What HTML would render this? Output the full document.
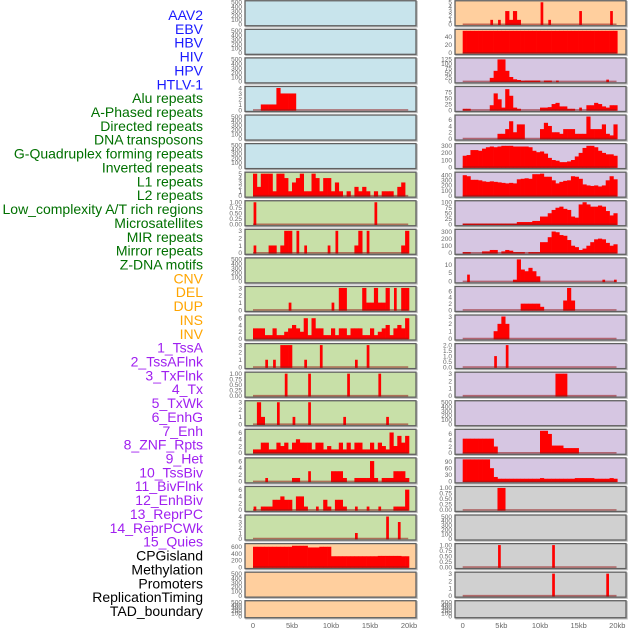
<!DOCTYPE html>
<html><head><meta charset="utf-8"><style>
html,body{margin:0;padding:0;background:#fff;}
svg{display:block;font-family:"Liberation Sans",sans-serif;}
</style></head><body>
<svg id="chart" width="630" height="630" viewBox="0 0 630 630" xmlns="http://www.w3.org/2000/svg"></svg>
<script>
const labelTexts = ["AAV2","EBV","HBV","HIV","HPV","HTLV-1","Alu repeats","A-Phased repeats","Directed repeats","DNA transposons","G-Quadruplex forming repeats","Inverted repeats","L1 repeats","L2 repeats","Low_complexity A/T rich regions","Microsatellites","MIR repeats","Mirror repeats","Z-DNA motifs","CNV","DEL","DUP","INS","INV","1_TssA","2_TssAFlnk","3_TxFlnk","4_Tx","5_TxWk","6_EnhG","7_Enh","8_ZNF_Rpts","9_Het","10_TssBiv","11_BivFlnk","12_EnhBiv","13_ReprPC","14_ReprPCWk","15_Quies","CPGisland","Methylation","Promoters","ReplicationTiming","TAD_boundary"];
const labelGroups = ["v","v","v","v","v","v","r","r","r","r","r","r","r","r","r","r","r","r","r","s","s","s","s","s","c","c","c","c","c","c","c","c","c","c","c","c","c","c","c","k","k","k","k","k"];
const xTickLabels = ["0","5kb","10kb","15kb","20kb"];
const xTickKb = [0,5,10,15,20];

const E = [];
const L3 = [[2,1],[3,1],[4,1],[5,1],[6,4],[7,3],[8,3],[9,3],[10,3]];
const L6 = [5,2,5,5,5,1,5,5,4,1,3,4,5,1,1,5,4,1,4,4,1,3,1,0,1,0,2,1,2,1,0,1,0,1,1,1,0,2,3,0];
const L7 = [[0,1],[31,1]];
const L8 = [[0,1],[4,1],[5,1],[7,1],[8,3],[9,3],[11,3],[13,1],[19,1],[21,3],[26,1],[27,3],[29,3],[38,1],[39,3]];
const L10 = [[9,1],[20,1],[22,3],[23,3],[28,3],[29,1],[30,1],[31,3],[32,1],[33,1],[34,3],[36,3],[38,3],[39,3]];
const L11 = [3,3,3,1,1,3,1,1,2,3,4,3,2,6,1,6,3,3,1,1,3,1,3,3,1,3,3,3,1,1,3,1,2,3,4,1,3,4,3,6];
const L12 = [[3,1],[5,1],[7,3],[8,3],[9,3],[13,1],[17,3],[26,1],[29,3]];
const L13 = [[8,1],[14,1],[24,1],[32,1]];
const L14 = [[1,3],[2,1],[6,3],[10,1],[14,3],[23,1],[34,1]];
const L15 = [1,1,3,3,1,1,3,2,3,1,3,4,3,3,3,1,3,3,1,2,1,1,3,1,3,1,3,3,1,1,3,1,3,2,1,6,2,5,3,5];
const L16 = [[3,1],[10,1],[11,1],[14,3],[20,3],[21,3],[22,3],[23,1],[26,1],[27,1],[28,1],[29,1],[30,6],[31,1],[33,1],[34,1],[35,1],[36,3],[37,3],[38,3],[39,1]];
const L17 = [[0,1],[2,1],[3,1],[4,1],[5,3],[6,3],[7,4],[8,3],[9,3],[11,4],[12,4],[13,1],[16,1],[18,3],[19,1],[21,3],[22,3],[23,1],[26,1],[29,1],[32,1],[36,1],[37,1],[38,1],[39,6]];
const L18 = [[26,1],[34,4],[37,3]];
const L19 = [600,600,600,600,600,600,600,600,600,600,630,630,630,630,580,580,580,600,600,600,320,320,320,320,320,320,320,320,320,320,320,320,330,330,330,330,330,330,320,320];

const R0 = [[7,1],[9,1],[11,3],[12,1],[13,3],[14,1],[20,5],[22,1],[30,3],[38,3]];
const R1 = [55,55,55,55,55,55,55,55,55,55,55,55,55,55,55,55,55,55,55,55,55,55,55,55,55,55,55,55,55,55,55,55,55,55,55,55,55,55,55,55];
const R2 = [[7,20],[8,60],[9,125],[10,125],[11,60],[12,25],[13,12],[14,8],[15,4],[16,5],[17,5],[18,5],[19,5],[21,5],[22,5],[24,5],[37,10]];
const R3 = [[0,5],[1,5],[7,20],[8,70],[9,45],[10,10],[11,88],[12,60],[13,10],[14,5],[20,10],[21,10],[22,12],[23,25],[24,30],[25,15],[26,15],[27,5],[28,5],[30,10],[32,20],[33,20],[34,30],[35,25],[36,15],[37,10],[38,20],[39,20]];
const R4 = [[9,1.5],[10,1.5],[11,3],[12,5.5],[13,2],[14,4.5],[15,4.5],[20,3],[21,5],[22,4],[23,2],[24,2],[25,1.5],[26,3],[27,3],[28,3],[29,1.5],[30,1.5],[31,1.5],[32,7],[33,3],[34,3],[35,3],[36,4.5],[37,1.5],[38,1],[39,4.5]];
const R5 = [160,170,240,240,230,260,280,290,280,290,300,300,300,290,290,290,290,280,230,210,220,190,130,100,90,70,70,80,100,150,200,270,300,300,280,230,200,180,180,160];
const R6 = [400,380,310,310,300,280,270,280,270,260,250,240,250,240,320,330,340,330,420,420,430,370,370,300,240,270,290,300,380,370,330,220,200,190,200,180,200,300,380,320];
const R7 = [3,3,3,3,3,3,3,3,3,3,3,3,3,3,10,10,10,10,15,15,35,35,50,65,75,80,70,65,35,30,90,100,90,80,80,85,80,60,40,50];
const R8 = [10,10,0,0,0,20,20,40,40,0,20,40,30,10,10,10,0,10,10,10,150,150,220,300,290,250,240,180,100,80,40,60,100,150,190,200,190,140,100,120];
const R9 = [[1,4],[13,1],[14,13],[15,7],[16,6],[17,8],[18,6],[19,3],[36,1],[39,1]];
const R10 = [[15,2],[16,2],[17,2],[18,2],[19,2],[20,1],[26,3],[27,7],[28,3]];
const R11 = [[8,1],[9,2],[10,3],[11,2]];
const R12 = [[8,1],[11,2]];
const R13 = [[24,3],[25,3],[26,3]];
const R15 = [[0,4.5],[1,4.5],[2,4.5],[3,4.5],[4,4.5],[5,4.5],[6,4.5],[7,4.5],[8,2],[20,7],[21,7],[22,6],[23,2.3],[24,2.3],[25,2.3],[26,1.5],[27,1.5],[28,1.5],[29,1.5]];
const R16 = [100,100,100,100,100,100,100,60,20,12,12,12,12,12,12,12,12,12,12,12,15,12,12,12,12,12,12,12,12,15,15,15,15,15,12,12,12,12,15,12];
const R17 = [[9,1],[10,1]];
const R19 = [[9,1],[23,1]];
const R20 = [[23,3],[37,3]];

const T500 = [0,100,200,300,400,500];
const TQ = [0,0.25,0.5,0.75,1];
const leftSeries = [E,E,E,L3,E,E,L6,L7,L8,E,L10,L11,L12,L13,L14,L15,L16,L17,L18,L19,E,E];
const leftMax = [500,500,500,4,500,500,5,1,3,500,3,6.5,3,1,3,6.5,6.5,6.5,4,650,500,500];
const leftTicks = [T500,T500,T500,[0,1,2,3,4],T500,T500,[0,1,2,3,4,5],TQ,[0,1,2,3],T500,[0,1,2,3],[0,2,4,6],[0,1,2,3],TQ,[0,1,2,3],[0,2,4,6],[0,2,4,6],[0,2,4,6],[0,1,2,3,4],[0,200,400,600],T500,T500];
const leftBg = ["b","b","b","b","b","b","g","g","g","g","g","g","g","g","g","g","g","g","g","o","o","o"];
const rightSeries = [R0,R1,R2,R3,R4,R5,R6,R7,R8,R9,R10,R11,R12,R13,E,R15,R16,R17,E,R19,R20,E];
const rightMax = [5,55,125,93,7,310,430,100,310,13,7,3,2,3,500,7,100,1,500,1,3,500];
const rightTicks = [[0,1,2,3,4,5],[0,20,40],[0,25,50,75,100,125],[0,25,50,75],[0,2,4,6],[0,100,200,300],[0,100,200,300,400],[0,25,50,75,100],[0,100,200,300],[0,5,10],[0,2,4,6],[0,1,2,3],[0,0.5,1,1.5,2],[0,1,2,3],T500,[0,2,4,6],[0,30,60,90],TQ,T500,TQ,[0,1,2,3],T500];
const rightBg = ["o","o","p","p","p","p","p","p","p","p","p","p","p","p","p","p","p","g2","g2","g2","g2","g2"];

const NS="http://www.w3.org/2000/svg";
const svg=document.getElementById('chart');
const bgColor={b:"#c8e4ec",g:"#c8e0a8",o:"#ffcf9e",p:"#d6c6e2",g2:"#d0d0d0"};
const labelColor={v:"#1a1aff",r:"#007000",s:"#ffa500",c:"#a020f0",k:"#000000"};
function mk(tag,attrs){const e=document.createElementNS(NS,tag);for(const k in attrs)e.setAttribute(k,attrs[k]);return e;}
function isSparse(d){ return d.length&&Array.isArray(d[0]); }
function expand(d){ if(isSparse(d)){const a=new Array(40).fill(0);d.forEach(p=>{a[p[0]]=p[1];});return a;} return d; }
function fmt(v,ticks){ if(ticks===TQ) return v.toFixed(2); if(ticks.some(t=>t%1!==0)) return v.toFixed(1); return String(v); }

labelTexts.forEach((t,i)=>{
  const el=mk('text',{x:203,y:20+i*13.86,'text-anchor':'end','font-size':14,fill:labelColor[labelGroups[i]]});
  el.textContent=t;
  
  
  svg.appendChild(el);
});

function drawColumn(series,maxs,ticks,bgs,x0,x1,kb0,pxKb,side){
  series.forEach((raw,i)=>{
    const top=0.75+i*28.57; const h=(i===21)?17:25; const bot=top+h;
    const g=mk('g',{});
    
    
    svg.appendChild(g);
    const yS=v=>bot-1.5-(v/maxs[i])*(h-3);
    g.appendChild(mk('rect',{x:x0+1,y:top+1,width:x1-x0,height:h,fill:'none',stroke:'#bbb','stroke-width':1.5}));
    g.appendChild(mk('rect',{x:x0,y:top,width:x1-x0,height:h,fill:bgColor[bgs[i]]}));
    const sparse=isSparse(raw);
    const vals=expand(raw);
    const bw=0.5*pxKb;
    vals.forEach((v,b)=>{
      if(!v) return;
      const isolated=sparse && !vals[b-1] && !vals[b+1];
      const w=isolated?bw*0.7:bw+0.3;
      const yt=Math.max(top+0.5,yS(v));
      const r=mk('rect',{x:kb0+b*bw+(isolated?bw*0.15:0),y:yt,width:w,height:yS(0)-yt+0.8,fill:'#ff0000'});
      
      
      g.appendChild(r);
    });
    if(vals.length){
      g.appendChild(mk('line',{x1:kb0,x2:kb0+19.9*pxKb,y1:yS(0),y2:yS(0),stroke:'rgba(150,20,20,0.55)','stroke-width':1.6}));
    }
    g.appendChild(mk('rect',{x:x0,y:top,width:x1-x0,height:h,fill:'none',stroke:'#606060','stroke-width':1.3}));
    ticks[i].forEach(tv=>{
      if(tv>maxs[i]) return;
      const t=mk('text',{x:x0-3,y:yS(tv)+2.3,'text-anchor':'end','font-size':6.5,fill:'#666'});
      t.textContent=fmt(tv,ticks[i]);
      
      
      g.appendChild(t);
    });
  });
  xTickKb.forEach((k,j)=>{
    const t=mk('text',{x:kb0+k*pxKb,y:628,'text-anchor':'middle','font-size':7.5,fill:'#666'});
    t.textContent=xTickLabels[j];
    
    
    svg.appendChild(t);
  });
}
drawColumn(leftSeries,leftMax,leftTicks,leftBg,245,416,253,7.8,'left');
drawColumn(rightSeries,rightMax,rightTicks,rightBg,455,626,462.7,7.73,'right');
</script>
</body></html>
